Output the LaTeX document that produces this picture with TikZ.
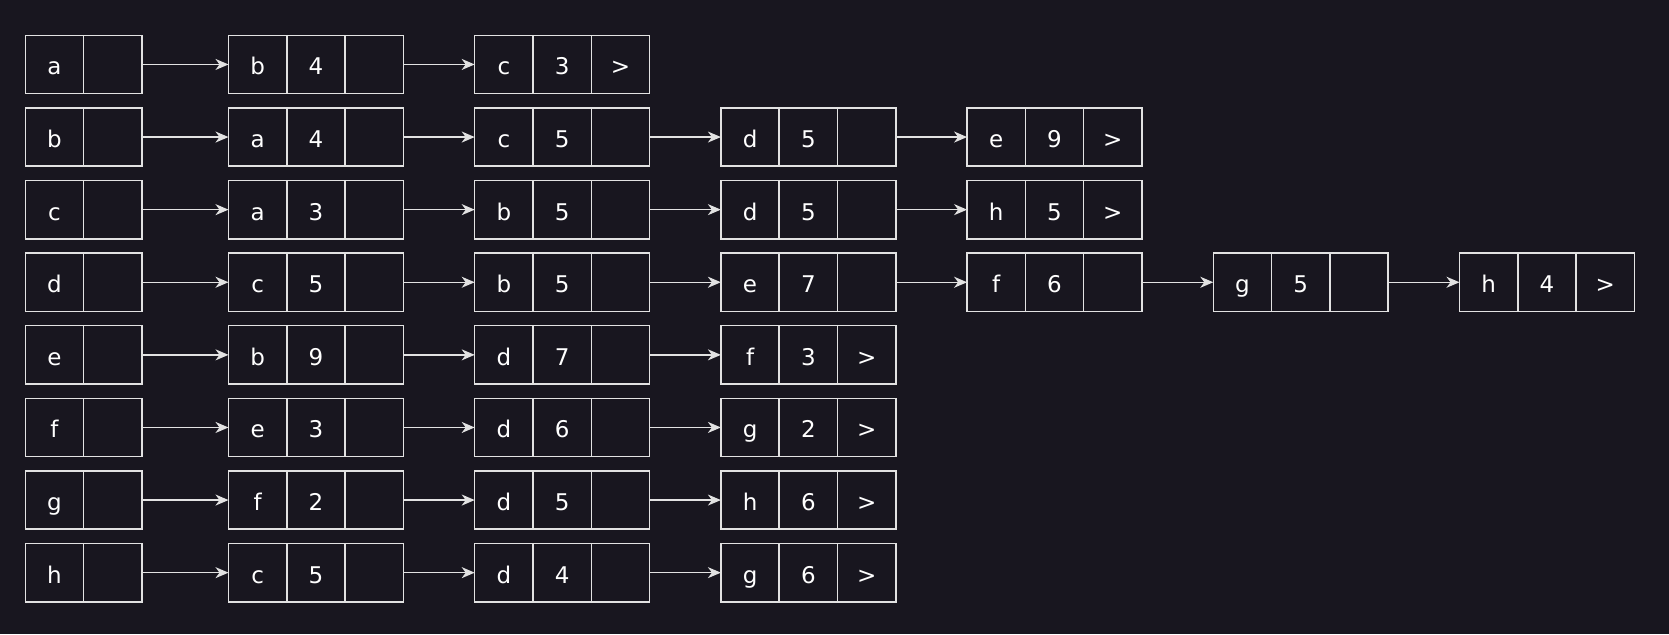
\documentclass[tikz,border=0pt]{standalone}
\usepackage{fontspec}
\setmainfont{DejaVu Sans}
\usetikzlibrary{arrows.meta}
\definecolor{bgc}{HTML}{18161F}
\definecolor{linec}{HTML}{E2E2E2}
\tikzset{
  cellbox/.style={draw=linec, line width=1.5pt, rectangle, minimum width=58.3pt, minimum height=58.3pt,
    inner sep=0pt, outer sep=0pt, anchor=north west, text=white,
    font=\fontsize{23}{23}\selectfont, text height=21pt, text depth=0pt},
  arr/.style={draw=linec, line width=1.5pt, -{Stealth[length=13pt,width=11pt,inset=4pt]}}
}
\begin{document}
\begin{tikzpicture}[x=1pt,y=-1pt]
\fill[bgc] (0,0) rectangle (1669,634);
\useasboundingbox (0,0) rectangle (1669,634);
% head boxes
\foreach \r/\h in {1/a,2/b,3/c,4/d,5/e,6/f,7/g,8/h}{
  \pgfmathsetmacro\ty{35.3+72.6*(\r-1)}
  \node[cellbox] (h\r-1) at (25.3,\ty) {\h};
  \node[cellbox] (h\r-2) at (83.6,\ty) {};
}
% list entries: row/col/vertex/weight/pointer
\foreach \r/\c/\v/\w/\p in {
  1/1/b/4/{},1/2/c/3/>,
  2/1/a/4/{},2/2/c/5/{},2/3/d/5/{},2/4/e/9/>,
  3/1/a/3/{},3/2/b/5/{},3/3/d/5/{},3/4/h/5/>,
  4/1/c/5/{},4/2/b/5/{},4/3/e/7/{},4/4/f/6/{},4/5/g/5/{},4/6/h/4/>,
  5/1/b/9/{},5/2/d/7/{},5/3/f/3/>,
  6/1/e/3/{},6/2/d/6/{},6/3/g/2/>,
  7/1/f/2/{},7/2/d/5/{},7/3/h/6/>,
  8/1/c/5/{},8/2/d/4/{},8/3/g/6/>}{
  \pgfmathsetmacro\ty{35.3+72.6*(\r-1)}
  \pgfmathsetmacro\tx{228.5+246.2*(\c-1)}
  \node[cellbox] (n\r-\c-1) at (\tx,\ty) {\v};
  \node[cellbox] (n\r-\c-2) at (\tx+58.3,\ty) {\w};
  \node[cellbox] (n\r-\c-3) at (\tx+116.6,\ty) {\p};
  \ifnum\c=1
    \draw[arr] (h\r-2.east) -- (n\r-1-1.west);
  \else
    \pgfmathtruncatemacro\pc{\c-1}
    \draw[arr] (n\r-\pc-3.east) -- (n\r-\c-1.west);
  \fi
}
\end{tikzpicture}
\end{document}
